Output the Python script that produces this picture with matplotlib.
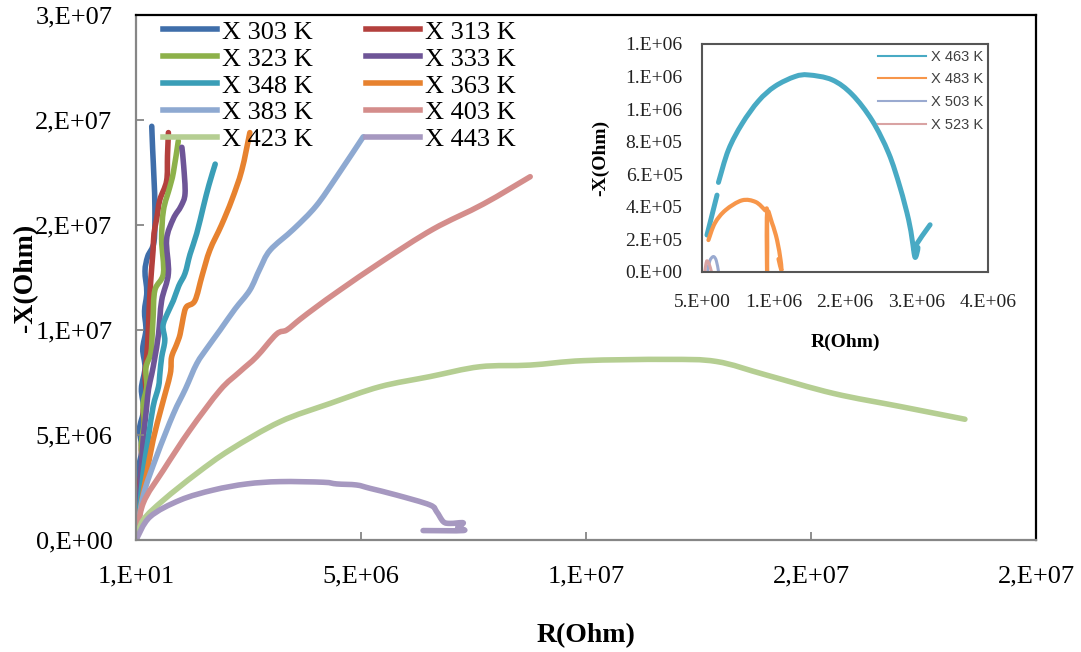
import numpy as np
import matplotlib
matplotlib.use("Agg")
import matplotlib.pyplot as plt
from matplotlib.path import Path
from matplotlib.patches import PathPatch

plt.rcParams['font.family'] = ['Liberation Serif', 'DejaVu Serif']

# impedance data, R and -X in MOhm (main plot)
temps = ["303", "313", "323", "333", "348", "363", "383", "403", "423", "443"]
colors = ['#3F6EAA', '#B3403D', '#8DB14A', '#6E5597', '#3A9EB7',
          '#E7822F', '#8EA9D1', '#D48D8B', '#B5CE92', '#A698C0']

r303 = [0, 0.04, 0.10, 0.05, 0.13, 0.08, 0.17, 0.12, 0.20, 0.15, 0.22, 0.19, 0.24, 0.20, 0.26, 0.40, 0.42, 0.40, 0.37, 0.35]
x303 = [0, 1.0, 2.2, 3.3, 4.3, 5.3, 6.2, 7.2, 8.2, 9.1, 10.0, 10.9, 11.8, 12.8, 13.5, 14.2, 15.8, 17.2, 18.6, 19.7]

r313 = [0, 0.06, 0.08, 0.13, 0.12, 0.18, 0.16, 0.22, 0.20, 0.24, 0.27, 0.30, 0.35, 0.38, 0.40, 0.46, 0.53, 0.68, 0.70, 0.72]
x313 = [0, 1.6, 2.6, 3.6, 4.5, 5.4, 6.2, 7.0, 7.9, 8.8, 9.8, 11.4, 13.0, 13.8, 14.6, 15.3, 16.2, 17.1, 18.3, 19.4]

r323 = [0, 0.06, 0.10, 0.14, 0.12, 0.18, 0.16, 0.24, 0.22, 0.33, 0.36, 0.38, 0.42, 0.61, 0.57, 0.61, 0.75, 0.83, 0.94]
x323 = [0, 1.3, 2.5, 3.6, 4.6, 5.6, 6.5, 7.3, 8.2, 8.9, 9.8, 10.6, 11.9, 12.7, 14.3, 15.7, 16.8, 17.5, 19.0]

r333 = [0, 0.05, 0.09, 0.12, 0.16, 0.20, 0.24, 0.28, 0.35, 0.42, 0.50, 0.57, 0.72, 0.68, 0.83, 1.00, 1.09, 1.06, 1.02]
x333 = [0, 1.2, 2.4, 3.5, 4.8, 5.6, 6.4, 7.2, 7.9, 8.7, 9.8, 11.4, 12.7, 14.3, 15.3, 15.9, 16.5, 17.8, 18.7]

r348 = [0, 0.08, 0.16, 0.27, 0.38, 0.50, 0.53, 0.57, 0.64, 0.60, 0.70, 0.83, 0.95, 1.09, 1.20, 1.35, 1.50, 1.62, 1.76]
x348 = [0, 1.5, 3.2, 4.8, 6.35, 7.3, 7.9, 8.7, 9.5, 10.2, 10.8, 11.4, 12.1, 12.7, 13.6, 14.6, 15.9, 16.9, 17.9]

r363 = [0, 0.13, 0.24, 0.38, 0.57, 0.76, 0.79, 0.90, 0.98, 1.05, 1.12, 1.31, 1.47, 1.64, 1.90, 2.13, 2.35, 2.53]
x363 = [0, 1.9, 3.17, 4.76, 6.35, 7.9, 8.7, 9.3, 9.8, 10.6, 11.1, 11.4, 12.6, 13.8, 15.0, 16.2, 17.6, 19.4]

r383 = [0, 0.16, 0.46, 0.83, 1.10, 1.35, 1.60, 1.87, 2.20, 2.53, 2.75, 2.98, 3.50, 4.00, 4.46, 5.05]
x383 = [0, 2.1, 4.0, 6.0, 7.2, 8.4, 9.2, 10.0, 11.0, 11.9, 12.9, 13.8, 14.8, 15.9, 17.3, 19.2]

r403 = [0, 0.16, 0.61, 1.20, 1.87, 2.30, 2.68, 3.12, 3.35, 3.64, 4.01, 4.53, 5.49, 6.60, 7.72, 8.76]
x403 = [0, 1.75, 3.33, 5.24, 7.14, 8.0, 8.73, 9.8, 10.0, 10.5, 11.1, 11.9, 13.3, 14.8, 16.0, 17.3]

r423 = [0, 0.16, 0.61, 1.35, 2.09, 3.20, 4.31, 5.42, 6.53, 7.64, 8.76, 9.94, 11.8, 12.9, 14.0, 15.5, 17.0, 18.42]
x423 = [0, 0.95, 1.9, 3.17, 4.29, 5.63, 6.5, 7.3, 7.78, 8.25, 8.33, 8.54, 8.6, 8.5, 7.86, 6.98, 6.35, 5.75]

r443 = [0, 0.31, 0.98, 1.72, 2.46, 3.20, 4.16, 4.46, 4.90, 5.20, 5.79, 6.53, 6.68, 6.83, 6.98, 7.27, 7.15, 7.27, 6.38]
x443 = [0, 1.1, 1.9, 2.38, 2.67, 2.78, 2.75, 2.67, 2.62, 2.46, 2.14, 1.67, 1.35, 0.87, 0.79, 0.82, 0.6, 0.45, 0.45]

main_r = [r303, r313, r323, r333, r348, r363, r383, r403, r423, r443]
main_x = [x303, x313, x323, x333, x348, x363, x383, x403, x423, x443]

x_ticks = [10, 5e6, 1e7, 1.5e7, 2e7]
x_ticklabels = ["1,E+01", "5,E+06", "1,E+07", "2,E+07", "2,E+07"]
y_ticks = [0, 5e6, 1e7, 1.5e7, 2e7, 2.5e7]
y_ticklabels = ["0,E+00", "5,E+06", "1,E+07", "2,E+07", "2,E+07", "3,E+07"]

# high temperature data (inset), R in MOhm, -X in 1e5 Ohm
in_temps = ["463", "483", "503", "523"]
in_colors = ['#48AAC4', '#F7964A', '#9AAAD0', '#D9A3A3']
in_lw = [3.6, 3.0, 2.2, 2.2]

r463 = [0.07, 0.14, 0.21, np.nan, 0.23, 0.37, 0.56, 0.79, 1.02, 1.30, 1.49, 1.82, 2.10, 2.38, 2.61, 2.77, 2.89, 2.94, 2.98, 3.02, 2.97, 3.19]
x463 = [2.27, 3.5, 4.72, np.nan, 5.5, 7.5, 9.1, 10.5, 11.4, 12.0, 12.1, 11.8, 10.9, 9.3, 7.3, 5.2, 3.2, 1.96, 0.9, 1.5, 1.5, 2.9]

r483 = [0.09, 0.18, 0.33, 0.56, 0.75, 0.88, 0.91, 0.91, 0.91, 0.98, 1.05, 1.10, 1.11, 1.07]
x483 = [1.96, 3.0, 3.8, 4.4, 4.3, 3.8, 3.6, 0.0, 3.6, 3.0, 1.96, 0.7, 0.1, 0.8]

r503 = [0.08, 0.11, 0.16, 0.20, 0.23]
x503 = [0.1, 0.7, 0.95, 0.7, 0.05]

r523 = [0.04, 0.055, 0.07, 0.10, 0.13]
x523 = [0.05, 0.5, 0.69, 0.5, 0.05]

in_r = [r463, r483, r503, r523]
in_x = [x463, x483, x503, x523]

in_x_ticks = [0, 1e6, 2e6, 3e6, 4e6]
in_x_ticklabels = ["5.E+00", "1.E+06", "2.E+06", "3.E+06", "4.E+06"]
in_y_ticks = [0, 2e5, 4e5, 6e5, 8e5, 1e6, 1.2e6, 1.4e6]
in_y_ticklabels = ["0.E+00", "2.E+05", "4.E+05", "6.E+05", "8.E+05", "1.E+06", "1.E+06", "1.E+06"]


def smooth_path(xs, ys):
    # smoothed line through the points (cubic Bezier, catmull-rom style), nan splits it
    xs = np.asarray(xs, float)
    ys = np.asarray(ys, float)
    verts, codes = [], []
    ok = ~(np.isnan(xs) | np.isnan(ys))
    idx = np.flatnonzero(ok)
    runs = np.split(idx, np.flatnonzero(np.diff(idx) > 1) + 1)
    for run in runs:
        p = np.column_stack([xs[run], ys[run]])
        if len(p) < 2:
            continue
        q = np.vstack([p[0], p, p[-1]])
        verts.append(p[0])
        codes.append(Path.MOVETO)
        for i in range(1, len(q) - 2):
            c1 = q[i] + (q[i + 1] - q[i - 1]) / 6
            c2 = q[i + 1] - (q[i + 2] - q[i]) / 6
            verts += [c1, c2, q[i + 1]]
            codes += [Path.CURVE4] * 3
    return Path(np.array(verts), codes)


def draw_series(axis, xs, ys, color, lw, label):
    axis.add_patch(PathPatch(smooth_path(xs, ys), fill=False, edgecolor=color, lw=lw,
                             capstyle='round', joinstyle='round'))
    return axis.plot([], [], color=color, lw=lw, label=label)[0]


W, H = 1081, 652
fig = plt.figure(figsize=(W / 100, H / 100), dpi=100)
ax = fig.add_axes([136 / W, 1 - 540 / H, 900 / W, 525 / H])

handles = []
for t, c, r, x in zip(temps, colors, main_r, main_x):
    handles.append(draw_series(ax, np.array(r) * 1e6, np.array(x) * 1e6, c, 4, "X " + t + " K"))

ax.set_xlim(10, 2e7)
ax.set_ylim(0, 2.5e7)
ax.set_xticks(x_ticks)
ax.set_xticklabels(x_ticklabels)
ax.set_yticks(y_ticks)
ax.set_yticklabels(y_ticklabels)
ax.tick_params(direction='in', length=6, width=1.3, color='#868686', labelsize=19)
ax.tick_params(axis='y', pad=17)
ax.tick_params(axis='x', pad=18)
for s in ['left', 'bottom']:
    ax.spines[s].set_color('#868686')
    ax.spines[s].set_linewidth(1.6)
for s in ['top', 'right']:
    ax.spines[s].set_color('black')
    ax.spines[s].set_linewidth(1.6)

ax.set_xlabel("R(Ohm)", fontsize=20, fontweight='bold', labelpad=26)
ax.set_ylabel("-X(Ohm)", fontsize=20, fontweight='bold', labelpad=-2)

# legend reads row by row, two columns
order = [0, 2, 4, 6, 8, 1, 3, 5, 7, 9]
ax.legend([handles[i] for i in order], [handles[i].get_label() for i in order],
          ncol=2, loc='upper left', bbox_to_anchor=(0.03, 0.99), frameon=False,
          fontsize=19, handlelength=2.05, handletextpad=0.2, columnspacing=2.0,
          labelspacing=0.13, borderpad=0, borderaxespad=0)

# inset with the high temperature arcs
ins = fig.add_axes([702 / W, 1 - 272 / H, 286 / W, 228 / H])
for t, c, r, x, lw in zip(in_temps, in_colors, in_r, in_x, in_lw):
    draw_series(ins, np.array(r) * 1e6, np.array(x) * 1e5, c, lw, "X " + t + " K")
ins.set_xlim(0, 4e6)
ins.set_ylim(0, 1.4e6)
ins.set_xticks(in_x_ticks)
ins.set_xticklabels(in_x_ticklabels)
ins.set_yticks(in_y_ticks)
ins.set_yticklabels(in_y_ticklabels)
ins.tick_params(length=0, labelsize=14, labelcolor='#222222')
ins.tick_params(axis='y', pad=14)
ins.tick_params(axis='x', pad=16)
for s in ins.spines.values():
    s.set_color('#555555')
    s.set_linewidth(1.5)
ins.set_xlabel("R(Ohm)", fontsize=14, fontweight='bold', labelpad=16)
ins.set_ylabel("-X(Ohm)", fontsize=14, fontweight='bold', labelpad=12)
leg = ins.legend(loc='upper left', bbox_to_anchor=(0.615, 0.975), frameon=False,
                 prop={'family': 'Liberation Sans', 'size': 10.5}, handlelength=3.3,
                 handletextpad=0.35, labelspacing=0.6, borderpad=0, borderaxespad=0)
for line in leg.get_lines():
    line.set_linewidth(1.5)
for txt in leg.get_texts():
    txt.set_color('#404040')

fig.savefig("out.png", dpi=100)
